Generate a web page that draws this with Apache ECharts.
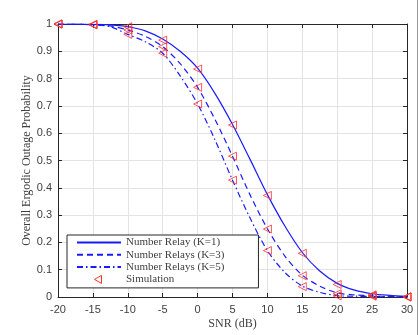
<!DOCTYPE html>
<html><head><meta charset="utf-8">
<script src="https://cdn.jsdelivr.net/npm/echarts@6/dist/echarts.min.js"></script>
<style>html,body{margin:0;padding:0;background:#fff}#c{width:419px;height:335px}</style>
</head><body><div id="c"></div>
<script>
var snrFine = [-20, -17.5, -15, -12.5, -10, -7.5, -5, -2.5, 0, 2.5, 5, 7.5, 10, 12.5, 15, 17.5, 20, 22.5, 25, 27.5, 30];
var k1 = [1, 1, 0.999, 0.997, 0.99, 0.975, 0.945, 0.90, 0.838, 0.745, 0.632, 0.505, 0.375, 0.26, 0.163, 0.095, 0.05, 0.025, 0.012, 0.006, 0.002];
var k3 = [1, 1, 0.998, 0.993, 0.978, 0.955, 0.917, 0.855, 0.768, 0.65, 0.516, 0.375, 0.25, 0.15, 0.08, 0.04, 0.015, 0.008, 0.004, 0.002, 0.001];
var k5 = [1, 1, 0.997, 0.99, 0.962, 0.935, 0.893, 0.81, 0.707, 0.575, 0.428, 0.29, 0.17, 0.09, 0.04, 0.017, 0.005, 0.003, 0.002, 0.001, 0.0005];
var snr = [-20, -15, -10, -5, 0, 5, 10, 15, 20, 25, 30];
var sim1 = [1, 0.998, 0.99, 0.941, 0.835, 0.63, 0.372, 0.16, 0.046, 0.008, 0.001];
var sim3 = [1, 0.998, 0.978, 0.917, 0.768, 0.516, 0.249, 0.078, 0.012, 0.005, 0.0];
var sim5 = [1, 0.997, 0.962, 0.893, 0.707, 0.428, 0.17, 0.038, 0.004, 0.003, 0.0];
var xTicks = [-20, -15, -10, -5, 0, 5, 10, 15, 20, 25, 30];
var yTicks = [0, 0.1, 0.2, 0.3, 0.4, 0.5, 0.6, 0.7, 0.8, 0.9, 1];
var names = ['Number Relay (K=1)', 'Number Relays (K=3)', 'Number Relays (K=5)', 'Simulation'];

function pairs(xs, ys) { return xs.map(function (x, i) { return [x, ys[i]]; }); }
var simPts = pairs(snr, sim1).concat(pairs(snr, sim3)).concat(pairs(snr, sim5));

var blue = '#1a1aff';
var red = '#ff3030';
var axisCol = '#262626';
var labCol = '#404040';
var serif = 'Liberation Serif';
var sans = 'Liberation Sans';

var simIcon = 'image://data:image/svg+xml;utf8,' + encodeURIComponent(
  '<svg xmlns="http://www.w3.org/2000/svg" width="44" height="11" viewBox="0 0 44 11">' +
  '<polygon points="24.5,1.5 17.5,5.5 24.5,9.5" fill="none" stroke="' + red + '" stroke-width="1"/></svg>');

function lineSeries(name, data, type) {
  return {
    name: name, type: 'line', data: pairs(snrFine, data), symbol: 'none', showSymbol: false,
    smooth: 0.3,
    lineStyle: { color: blue, width: 1.2, type: type },
    itemStyle: { color: blue }, z: 3
  };
}

var chart = echarts.init(document.getElementById('c'));
var baseX = {
  type: 'value', min: xTicks[0], max: xTicks[xTicks.length - 1], interval: 5,
  axisLine: { show: true, onZero: false, lineStyle: { color: axisCol, width: 1 } },
  axisTick: { show: true, inside: true, length: 4, lineStyle: { color: axisCol } },
  splitLine: { show: false }
};
var baseY = {
  type: 'value', min: yTicks[0], max: yTicks[yTicks.length - 1], interval: 0.1,
  axisLine: { show: true, onZero: false, lineStyle: { color: axisCol, width: 1 } },
  axisTick: { show: true, inside: true, length: 4, lineStyle: { color: axisCol } },
  splitLine: { show: false }
};
chart.setOption({
  animation: false,
  backgroundColor: '#fff',
  grid: { left: 58, right: 12, top: 24, bottom: 38 },
  xAxis: [
    Object.assign({}, baseX, {
      position: 'bottom',
      name: 'SNR (dB)', nameLocation: 'middle', nameGap: 21, nameMoveOverlap: false,
      nameTextStyle: { fontFamily: serif, fontSize: 12, color: labCol },
      axisLabel: { show: true, fontFamily: sans, fontSize: 11, color: labCol, margin: 7,
        formatter: function (v) { return xTicks.indexOf(v) >= 0 ? String(v) : ''; } },
      splitLine: { show: true, lineStyle: { color: '#e3e3e3', width: 1 } }
    }),
    Object.assign({}, baseX, { position: 'top', axisLabel: { show: false } })
  ],
  yAxis: [
    Object.assign({}, baseY, {
      position: 'left',
      name: 'Overall Ergodic Outage Probability', nameLocation: 'middle', nameGap: 25, nameMoveOverlap: false,
      nameTextStyle: { fontFamily: serif, fontSize: 12, color: labCol },
      axisLabel: { show: true, fontFamily: sans, fontSize: 11, color: labCol, margin: 6,
        formatter: function (v) { return String(Math.round(v * 10) / 10); } },
      splitLine: { show: true, lineStyle: { color: '#e3e3e3', width: 1 } }
    }),
    Object.assign({}, baseY, { position: 'right', axisLabel: { show: false } })
  ],
  legend: {
    orient: 'vertical', left: 67, top: 235,
    backgroundColor: '#fff', borderColor: axisCol, borderWidth: 1,
    padding: [2, 34, 3, 9], itemGap: 1.3, itemWidth: 44, itemHeight: 11,
    itemStyle: { opacity: 0 },
    textStyle: { fontFamily: serif, fontSize: 11, color: labCol },
    data: [
      { name: names[0] }, { name: names[1] }, { name: names[2] },
      { name: names[3], icon: simIcon, itemStyle: { opacity: 1 } }
    ]
  },
  series: [
    lineSeries(names[0], k1, 'solid'),
    lineSeries(names[1], k3, [6, 4]),
    lineSeries(names[2], k5, [6, 3, 1.5, 3]),
    {
      name: names[3], type: 'scatter', data: simPts,
      symbol: 'triangle', symbolSize: 8, symbolRotate: 90,
      itemStyle: { color: 'transparent', borderColor: red, borderWidth: 1 },
      z: 4
    }
  ],
  graphic: [{ type: 'line', shape: { x1: 417.5, y1: 0, x2: 417.5, y2: 335 }, style: { stroke: '#999', lineWidth: 1 } }]
});
</script></body></html>
